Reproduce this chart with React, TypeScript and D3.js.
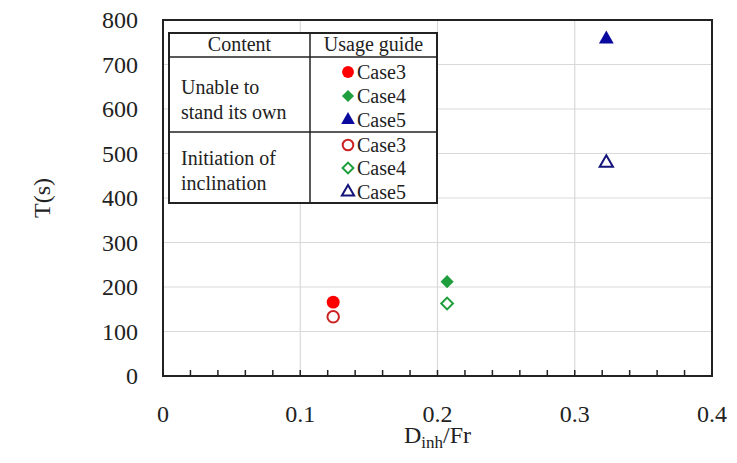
import React from 'react';
import * as d3 from 'd3';

const cases = ['Case3', 'Case4', 'Case5'];
const dRatio = [0.124, 0.207, 0.323];
const tUnable = [166, 212, 757];
const tInitiation = [133, 163, 479];
const xTicks = [0, 0.1, 0.2, 0.3, 0.4];
const yTicks = [0, 100, 200, 300, 400, 500, 600, 700, 800];
const xMinorTicks = d3.range(0, 21).map((i) => i * 0.02);
const groups = ['Unable to stand its own', 'Initiation of inclination'];

const fills = ['#ff0000', '#1e9e3c', '#0a0a9e'];
const strokes = ['#cc2222', '#1e9e3c', '#14147a'];
const shapes = [d3.symbolCircle, d3.symbolDiamond2, d3.symbolTriangle];
const sizes = [130, 110, 95];

const W = 737;
const H = 463;
const m = { left: 163, right: 25, top: 20, bottom: 87 };
const font = "'Liberation Serif', 'DejaVu Serif', serif";

const x = d3.scaleLinear().domain([0, 0.4]).range([m.left, W - m.right]);
const y = d3.scaleLinear().domain([0, 800]).range([H - m.bottom, m.top]);

const sym = (i: number, scale = 1) =>
  d3.symbol().type(shapes[i]).size(sizes[i] * scale)() as string;

function Marker({ i, cx, cy, open, scale = 1 }: { i: number; cx: number; cy: number; open: boolean; scale?: number }) {
  return (
    <path
      d={sym(i, open ? scale * 0.8 : scale)}
      transform={`translate(${cx},${cy})`}
      fill={open ? 'white' : fills[i]}
      stroke={open ? strokes[i] : 'none'}
      strokeWidth={open ? 2 : 0}
    />
  );
}

export default function App() {
  const x0 = x(0);
  const x1 = x(0.4);
  const y0 = y(0);
  const y1 = y(800);

  // legend table
  const tL = 169, tR = 437, tMid = 310, tTop = 33, tHead = 57, tRow = 132, tBot = 203;
  const entryY = [72, 96, 120, 145, 168, 192];

  return (
    <svg width={W} height={H} style={{ position: 'absolute', left: 0, top: 0, background: 'white', fontFamily: font }}>
      {/* grid */}
      {yTicks.slice(1, -1).map((t) => (
        <line key={'gy' + t} x1={x0} x2={x1} y1={y(t)} y2={y(t)} stroke="#d9d9d9" strokeWidth={1.2} />
      ))}
      {xTicks.slice(1, -1).map((t) => (
        <line key={'gx' + t} x1={x(t)} x2={x(t)} y1={y0} y2={y1} stroke="#d9d9d9" strokeWidth={1.2} />
      ))}
      {/* minor ticks on the x axis */}
      {xMinorTicks.map((t) => (
        <line key={'mt' + t} x1={x(t)} x2={x(t)} y1={y0} y2={y0 - 6} stroke="#222" strokeWidth={1.5} />
      ))}
      <rect x={x0} y={y1} width={x1 - x0} height={y0 - y1} fill="none" stroke="#222" strokeWidth={2} />

      {/* tick labels */}
      {yTicks.map((t) => (
        <text key={'yl' + t} x={x0 - 25} y={y(t)} dy="0.35em" textAnchor="end" fontSize={24} fill="#222">
          {t}
        </text>
      ))}
      {xTicks.map((t) => (
        <text key={'xl' + t} x={x(t)} y={y0 + 46} textAnchor="middle" fontSize={24} fill="#222">
          {t}
        </text>
      ))}

      {/* axis titles */}
      <text transform={`translate(50,${(y0 + y1) / 2}) rotate(-90)`} textAnchor="middle" fontSize={24} fill="#222">
        T(s)
      </text>
      <text x={(x0 + x1) / 2} y={443} textAnchor="middle" fontSize={24} fill="#222">
        D<tspan fontSize={17} dy={5}>inh</tspan>
        <tspan dy={-5}>/Fr</tspan>
      </text>

      {/* data */}
      {cases.map((c, i) => (
        <g key={c}>
          <Marker i={i} cx={x(dRatio[i])} cy={y(tInitiation[i])} open={true} />
          <Marker i={i} cx={x(dRatio[i])} cy={y(tUnable[i])} open={false} />
        </g>
      ))}

      {/* legend table */}
      <g>
        <rect x={tL} y={tTop} width={tR - tL} height={tBot - tTop} fill="white" stroke="#222" strokeWidth={2} />
        <line x1={tMid} x2={tMid} y1={tTop} y2={tBot} stroke="#222" strokeWidth={1.5} />
        <line x1={tL} x2={tR} y1={tHead} y2={tHead} stroke="#222" strokeWidth={1.5} />
        <line x1={tL} x2={tR} y1={tRow} y2={tRow} stroke="#222" strokeWidth={1.5} />
        <text x={(tL + tMid) / 2} y={tHead - 6} textAnchor="middle" fontSize={20} fill="#222">Content</text>
        <text x={(tMid + tR) / 2} y={tHead - 6} textAnchor="middle" fontSize={20} fill="#222">Usage guide</text>
        <text x={tL + 12} y={94} fontSize={20} fill="#222">Unable to</text>
        <text x={tL + 12} y={119} fontSize={20} fill="#222">stand its own</text>
        <text x={tL + 12} y={165} fontSize={20} fill="#222">Initiation of</text>
        <text x={tL + 12} y={190} fontSize={20} fill="#222">inclination</text>
        {groups.map((g, gi) =>
          cases.map((c, i) => {
            const ey = entryY[gi * 3 + i];
            return (
              <g key={g + c}>
                <Marker i={i} cx={348} cy={ey} open={gi === 1} scale={0.85} />
                <text x={357} y={ey} dy="0.35em" fontSize={20} fill="#222">{c}</text>
              </g>
            );
          })
        )}
      </g>
    </svg>
  );
}
